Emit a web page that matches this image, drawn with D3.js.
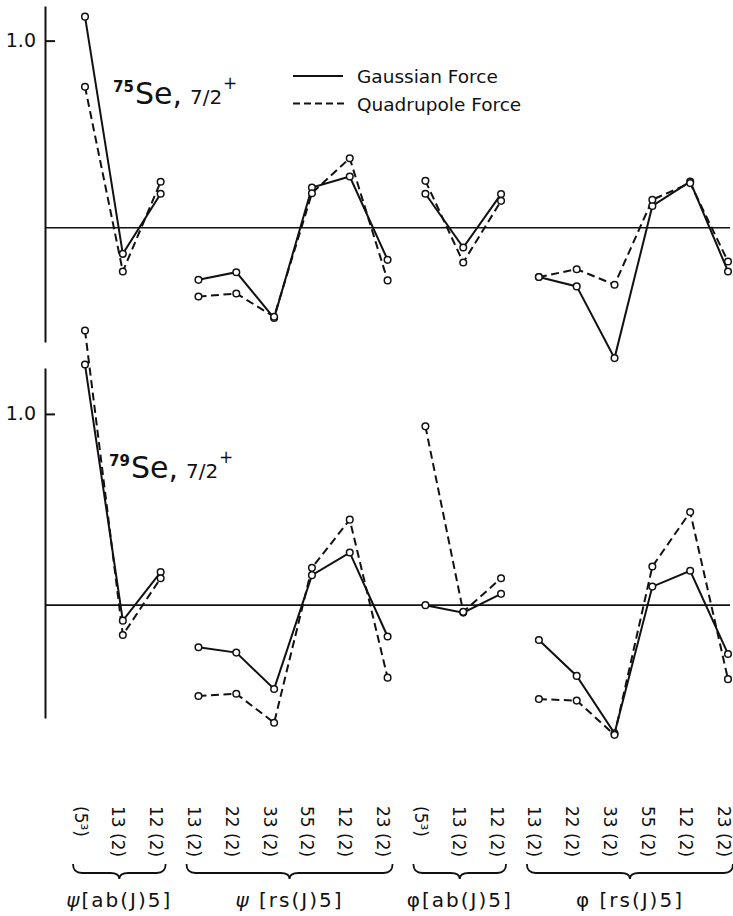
<!DOCTYPE html>
<html>
<head>
<meta charset="utf-8">
<script src="https://cdn.jsdelivr.net/npm/d3@7"></script>
<style>
body { margin: 0; background: #fff; }
text { font-family: "DejaVu Sans", sans-serif; fill: #111; }
</style>
</head>
<body>
<svg id="chart"></svg>
<script>
// configuration labels, one per point along the x axis
const configLabels = ["(5³)", "13 (2)", "12 (2)",
	"13 (2)", "22 (2)", "33 (2)", "55 (2)", "12 (2)", "23 (2)",
	"(5³)", "13 (2)", "12 (2)",
	"13 (2)", "22 (2)", "33 (2)", "55 (2)", "12 (2)", "23 (2)"];

// brace groups under the labels
const groupNames = ["ψ", "ψ", "φ", "φ"];
const groupTails = ["[ab(J)5]", " [rs(J)5]", "[ab(J)5]", " [rs(J)5]"];
const groupStart = [0, 3, 9, 12];
const groupEnd = [2, 8, 11, 17];

// 75Se, 7/2+
const se75Gauss = [1.128, -0.139, 0.182, -0.278, -0.237, -0.482, 0.215, 0.274, -0.171,
	0.182, -0.105, 0.180, -0.263, -0.313, -0.696, 0.117, 0.247, -0.233];
const se75Quad = [0.754, -0.233, 0.246, -0.367, -0.351, -0.475, 0.185, 0.372, -0.281,
	0.251, -0.185, 0.144, -0.263, -0.221, -0.304, 0.150, 0.239, -0.180];

// 79Se, 7/2+
const se79Gauss = [1.258, -0.081, 0.173, -0.220, -0.248, -0.438, 0.157, 0.275, -0.164,
	0.000, -0.039, 0.059, -0.182, -0.370, -0.670, 0.097, 0.180, -0.255];
const se79Quad = [1.436, -0.156, 0.141, -0.475, -0.463, -0.615, 0.195, 0.447, -0.379,
	0.935, -0.035, 0.141, -0.491, -0.499, -0.678, 0.202, 0.487, -0.387];

const yTicks = [1.0];

const width = 733, height = 916;
const axisX = 45, zeroEnd = 730;

const svg = d3.select("#chart").attr("width", width).attr("height", height);
svg.append("rect").attr("width", width).attr("height", height).attr("fill", "#fff");

const x = d3.scalePoint()
	.domain(d3.range(configLabels.length))
	.range([85, 728]);

const panels = [
	{ gauss: se75Gauss, quad: se75Quad, mass: "75",
	  y: d3.scaleLinear().domain([-0.61, 1.185]).range([342, 6]), titleX: 116, titleY: 104 },
	{ gauss: se79Gauss, quad: se79Quad, mass: "79",
	  y: d3.scaleLinear().domain([-0.59, 1.24]).range([718, 368]), titleX: 112, titleY: 478 }
];

panels.forEach(function(p) {
	let g = svg.append("g");

	// left axis, tick pointing inward
	let ax = g.append("g")
		.attr("transform", "translate(" + axisX + ",0)")
		.call(d3.axisLeft(p.y).tickValues(yTicks).tickFormat(d3.format(".1f"))
			.tickSizeInner(-10).tickSizeOuter(0).tickPadding(9));
	ax.select(".domain").attr("stroke", "#111").attr("stroke-width", 2);
	ax.selectAll(".tick line").attr("stroke", "#111").attr("stroke-width", 2);
	ax.selectAll(".tick text").style("font-size", "19px").attr("fill", "#111")
		.style("font-family", "DejaVu Sans");

	// zero line
	g.append("line")
		.attr("x1", axisX).attr("x2", zeroEnd)
		.attr("y1", p.y(0)).attr("y2", p.y(0))
		.attr("stroke", "#111").attr("stroke-width", 1.6);

	// one polyline per brace group and per series
	let series = [
		{ vals: p.gauss, dash: null },
		{ vals: p.quad, dash: "8,4.5" }
	];
	let line = d3.line()
		.x(function(d) { return x(d.i); })
		.y(function(d) { return p.y(d.v); });

	series.forEach(function(s) {
		groupStart.forEach(function(st, k) {
			let pts = d3.range(st, groupEnd[k] + 1).map(function(i) { return { i: i, v: s.vals[i] }; });
			g.append("path")
				.attr("d", line(pts))
				.attr("fill", "none")
				.attr("stroke", "#111")
				.attr("stroke-width", 2)
				.attr("stroke-dasharray", s.dash);
		});
	});
	series.forEach(function(s) {
		g.selectAll(null)
			.data(s.vals)
			.enter()
			.append("circle")
			.attr("cx", function(d, i) { return x(i); })
			.attr("cy", function(d) { return p.y(d); })
			.attr("r", 3.3)
			.attr("fill", "#fff")
			.attr("stroke", "#111")
			.attr("stroke-width", 1.5);
	});

	// nucleus title, pieces set side by side
	g.append("text").attr("x", p.titleX - 3).attr("y", p.titleY - 12)
		.style("font-size", "15px").style("font-weight", "bold").text(p.mass);
	g.append("text").attr("x", p.titleX + 19).attr("y", p.titleY)
		.style("font-size", "30px").text("Se,");
	g.append("text").attr("x", p.titleX + 74).attr("y", p.titleY)
		.style("font-size", "20px").text("7/2");
	g.append("text").attr("x", p.titleX + 107).attr("y", p.titleY - 15)
		.style("font-size", "17px").text("+");
});

// legend
const legend = svg.append("g").attr("transform", "translate(293,0)");
legend.append("line").attr("x1", 0).attr("x2", 50).attr("y1", 76).attr("y2", 76)
	.attr("stroke", "#111").attr("stroke-width", 2);
legend.append("line").attr("x1", 0).attr("x2", 51).attr("y1", 103.5).attr("y2", 103.5)
	.attr("stroke", "#111").attr("stroke-width", 2).attr("stroke-dasharray", "7,4");
legend.append("text").attr("x", 64).attr("y", 83).style("font-size", "18.5px").text("Gaussian Force");
legend.append("text").attr("x", 64).attr("y", 111).style("font-size", "18.5px").text("Quadrupole Force");

// rotated configuration labels
const xAxis = svg.append("g")
	.attr("transform", "translate(-5,806)")
	.call(d3.axisBottom(x).tickSize(0).tickFormat(function(i) { return configLabels[i]; }));
xAxis.select(".domain").remove();
xAxis.selectAll(".tick text")
	.attr("transform", "rotate(90)")
	.attr("x", 0).attr("y", 0).attr("dy", "0.35em")
	.attr("text-anchor", "start")
	.attr("fill", "#111")
	.style("font-size", "17px")
	.style("font-family", "DejaVu Sans");

// braces and group names
function brace(x0, x1, yTop, yMid, yTip) {
	let xm = (x0 + x1) / 2;
	return "M" + x0 + "," + yTop +
		" Q" + x0 + "," + yMid + " " + (x0 + 9) + "," + yMid +
		" L" + (xm - 9) + "," + yMid +
		" Q" + xm + "," + yMid + " " + xm + "," + yTip +
		" Q" + xm + "," + yMid + " " + (xm + 9) + "," + yMid +
		" L" + (x1 - 9) + "," + yMid +
		" Q" + x1 + "," + yMid + " " + x1 + "," + yTop;
}

groupStart.forEach(function(st, k) {
	let x0 = x(st) - 12, x1 = x(groupEnd[k]) + 5;
	svg.append("path")
		.attr("d", brace(x0, x1, 864, 873, 879))
		.attr("fill", "none")
		.attr("stroke", "#111")
		.attr("stroke-width", 1.8);
	let lbl = svg.append("text")
		.attr("x", (x0 + x1) / 2)
		.attr("y", 907)
		.attr("text-anchor", "middle")
		.style("font-size", "20px")
		.style("letter-spacing", "2px");
	lbl.append("tspan").text(groupNames[k]).style("font-style", k < 2 ? "italic" : "normal");
	lbl.append("tspan").text(groupTails[k]);
});
</script>
</body>
</html>
